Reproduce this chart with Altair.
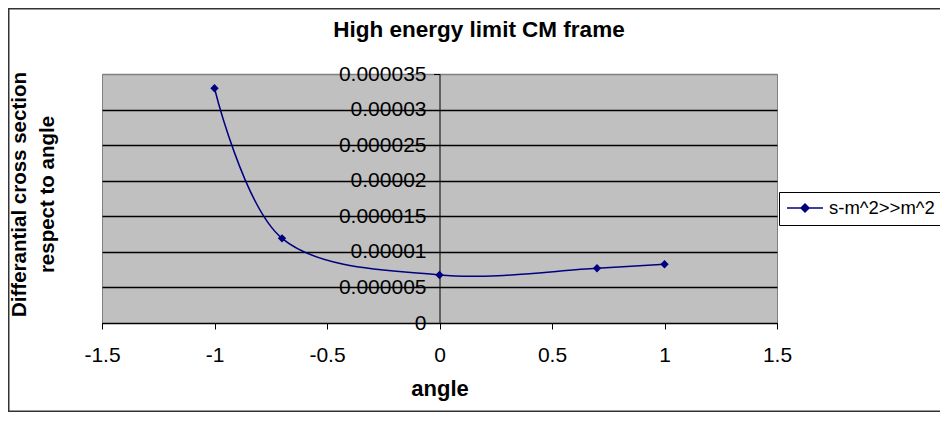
import altair as alt
import pandas as pd

# ---- data ----
angle = [-1.0, -0.7, 0.0, 0.7, 1.0]
cross_section = [0.000033, 0.0000119, 0.00000675, 0.0000077, 0.00000825]
series_name = "s-m^2>>m^2"
x_ticks = [-1.5, -1.0, -0.5, 0.0, 0.5, 1.0, 1.5]
y_ticks = [0, 0.000005, 0.00001, 0.000015, 0.00002, 0.000025, 0.00003, 0.000035]
title_text = "High energy limit CM frame"
y_title = ["Differantial cross section", "respect to angle"]
x_title = "angle"

df = pd.DataFrame({"angle": angle, "value": cross_section,
                   "series": [series_name] * len(angle)})

FONT = "Liberation Sans"
NAVY = "#000080"
W, H = 675, 249
PAD = {"left": 94, "top": 66, "right": 163, "bottom": 89}

x_enc = alt.X(
    "angle:Q",
    scale=alt.Scale(domain=[-1.5, 1.5], nice=False, zero=False),
    axis=alt.Axis(
        values=x_ticks, labelExpr="toString(datum.value)", grid=False,
        domainColor="black", domainWidth=1, tickColor="black", tickSize=6,
        labelFont=FONT, labelFontSize=21, labelColor="black", labelPadding=15,
        labelFlush=False,
        title=x_title, titleFont=FONT, titleFontSize=22, titleFontWeight="bold",
        titleColor="black", titleX=W / 2, titleY=72, titleAlign="center",
        titleBaseline="alphabetic",
    ),
)

y_enc = alt.Y(
    "value:Q",
    scale=alt.Scale(domain=[0, 0.000035], nice=False, zero=True),
    axis=alt.Axis(
        values=y_ticks, format=".6~f", offset=-W / 2,
        grid=True,
        gridColor=alt.condition("datum.value > 0.0000345", alt.value("#808080"), alt.value("black")),
        gridWidth=1.5,
        domainColor="black", domainWidth=1, tickColor="black", tickSize=6,
        labelFont=FONT, labelFontSize=21, labelColor="black", labelPadding=7.5,
        labelFlush=False, labelBaseline="middle",
        title=y_title, titleFont=FONT, titleFontSize=20.5, titleFontWeight="bold",
        titleColor="black", titleX=-414, titleY=120, titleAngle=270,
        titleAlign="center", titleBaseline="alphabetic", titleLineHeight=28,
    ),
)

border = alt.Chart(pd.DataFrame({"b": [0]})).mark_rect(
    fill="transparent", stroke="#333333", strokeWidth=1.5
).encode(
    x=alt.value(-PAD["left"] + 0.75),
    x2=alt.value(W + PAD["right"] + 20),
    y=alt.value(-PAD["top"] + 0.75),
    y2=alt.value(H + PAD["bottom"] - 0.75),
)

line = alt.Chart(df).mark_line(interpolate="catmull-rom", strokeWidth=1.5).encode(
    x=x_enc,
    y=y_enc,
    color=alt.Color(
        "series:N",
        scale=alt.Scale(range=[NAVY]),
        legend=alt.Legend(
            title=None, orient="none", legendX=677, legendY=118, padding=7,
            strokeColor="black", fillColor="white",
            symbolType="M-1,0L1,0M0,-0.22L0.22,0L0,0.22L-0.22,0Z",
            symbolSize=1296, symbolStrokeWidth=1.5,
            symbolStrokeColor=NAVY, symbolFillColor=NAVY, symbolOpacity=1,
            clipHeight=18,
            labelFont=FONT, labelFontSize=18.5, labelColor="black", labelOffset=5,
        ),
    ),
)

points = alt.Chart(df).mark_point(
    shape="diamond", filled=True, size=70, color=NAVY, opacity=1
).encode(x=x_enc, y=y_enc)

chart = alt.layer(border, line, points).properties(
    width=W, height=H,
    autosize=alt.AutoSizeParams(type="none"),
    padding=PAD,
    background="white",
    title=alt.TitleParams(
        title_text, font=FONT, fontSize=22.5, fontWeight="bold", color="black",
        anchor="middle", frame="group", dx=39.5, offset=-51.75,
        baseline="alphabetic",
    ),
).configure_view(fill="#C0C0C0", stroke="#808080", strokeWidth=1)

chart.save("out.html", embed_options={"renderer": "svg", "actions": False})
